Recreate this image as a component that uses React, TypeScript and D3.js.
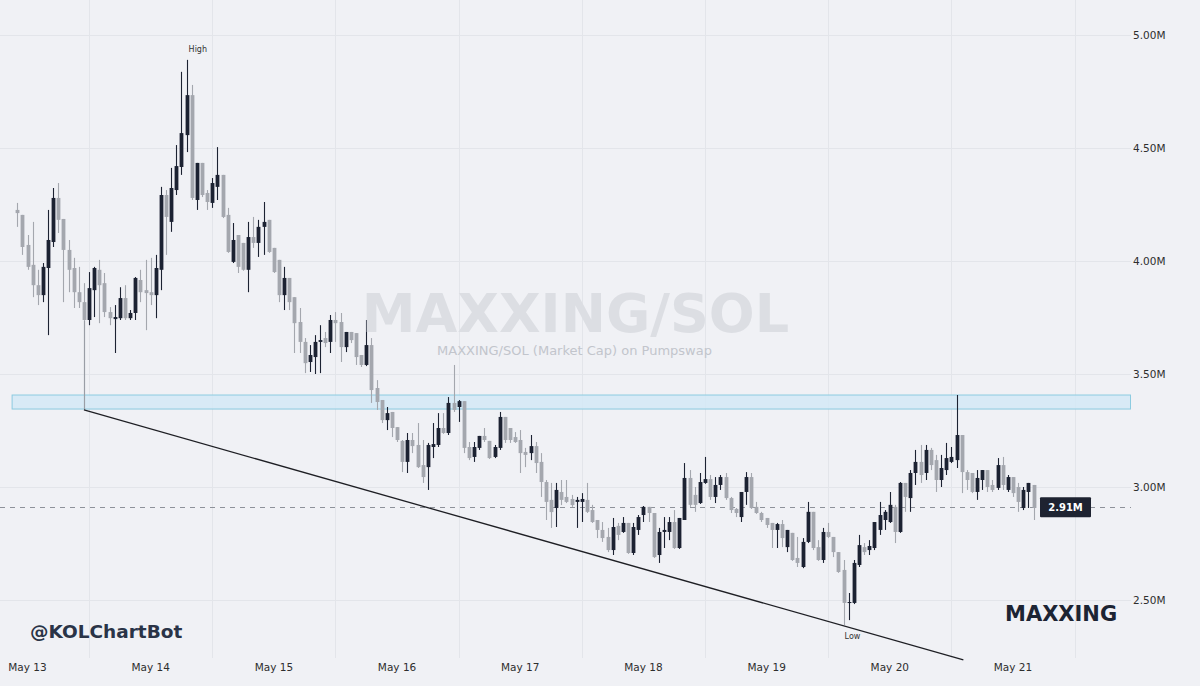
import React, { useEffect, useRef } from 'react';
import * as d3 from 'd3';

// hourly candles, first one opens May 12 22:00 (UTC), values in millions
const firstCandle = Date.UTC(2025, 4, 12, 22);

const ohlc: [number, number, number, number][] = [
  [4.226, 4.257, 4.151, 4.212], [4.204, 4.204, 4.027, 4.062], [4.071, 4.115, 3.961, 3.974], [3.983, 4.173, 3.840, 3.893],
  [3.893, 3.961, 3.805, 3.849], [3.849, 3.991, 3.818, 3.974], [3.969, 4.226, 3.672, 4.093], [4.084, 4.323, 4.062, 4.279],
  [4.279, 4.345, 4.124, 4.182], [4.186, 4.186, 3.818, 4.049], [4.049, 4.093, 3.862, 3.961], [3.969, 4.014, 3.792, 3.862],
  [3.862, 3.974, 3.792, 3.818], [3.818, 3.902, 3.735, 3.739], [3.739, 3.951, 3.716, 3.880], [3.871, 3.974, 3.752, 3.969],
  [3.961, 4.005, 3.725, 3.893], [3.902, 3.947, 3.752, 3.774], [3.774, 3.796, 3.716, 3.747], [3.743, 3.805, 3.593, 3.752],
  [3.747, 3.884, 3.739, 3.836], [3.836, 3.893, 3.739, 3.747], [3.747, 3.783, 3.739, 3.770], [3.770, 3.929, 3.739, 3.925],
  [3.916, 3.961, 3.818, 3.862], [3.871, 4.005, 3.694, 3.858], [3.862, 4.014, 3.805, 3.849], [3.849, 4.027, 3.747, 3.969],
  [3.961, 4.328, 3.871, 4.292], [4.292, 4.314, 4.027, 4.195], [4.173, 4.412, 4.129, 4.323], [4.314, 4.513, 4.292, 4.420],
  [4.416, 4.837, 4.381, 4.566], [4.557, 4.890, 4.482, 4.734], [4.734, 4.779, 4.270, 4.279], [4.270, 4.434, 4.226, 4.434],
  [4.434, 4.434, 4.283, 4.292], [4.301, 4.314, 4.226, 4.261], [4.257, 4.367, 4.235, 4.345], [4.328, 4.504, 4.270, 4.381],
  [4.381, 4.381, 4.190, 4.195], [4.204, 4.235, 4.036, 4.040], [3.996, 4.168, 3.991, 4.093], [4.115, 4.115, 3.947, 3.974],
  [4.080, 4.080, 3.957, 3.961], [3.961, 4.173, 3.862, 4.106], [4.106, 4.195, 4.058, 4.080], [4.080, 4.182, 4.018, 4.151],
  [4.151, 4.261, 4.027, 4.173], [4.182, 4.182, 4.036, 4.040], [4.058, 4.058, 3.947, 3.951], [4.005, 4.005, 3.818, 3.849],
  [3.849, 3.974, 3.783, 3.925], [3.925, 3.925, 3.783, 3.818], [3.840, 3.840, 3.593, 3.725], [3.730, 3.792, 3.593, 3.642],
  [3.642, 3.659, 3.504, 3.548], [3.553, 3.628, 3.509, 3.584], [3.575, 3.672, 3.500, 3.642], [3.642, 3.716, 3.504, 3.650],
  [3.659, 3.686, 3.619, 3.637], [3.642, 3.761, 3.593, 3.739], [3.739, 3.774, 3.642, 3.725], [3.730, 3.770, 3.553, 3.619],
  [3.619, 3.686, 3.597, 3.686], [3.686, 3.686, 3.637, 3.650], [3.681, 3.681, 3.540, 3.575], [3.584, 3.584, 3.531, 3.540],
  [3.540, 3.739, 3.535, 3.628], [3.628, 3.659, 3.372, 3.429], [3.438, 3.473, 3.341, 3.376], [3.385, 3.385, 3.283, 3.296],
  [3.296, 3.354, 3.252, 3.327], [3.332, 3.332, 3.221, 3.261], [3.265, 3.265, 3.199, 3.208], [3.204, 3.208, 3.066, 3.111],
  [3.111, 3.239, 3.062, 3.208], [3.208, 3.239, 3.150, 3.181], [3.186, 3.283, 3.084, 3.088], [3.097, 3.208, 3.018, 3.044],
  [3.088, 3.195, 2.987, 3.186], [3.177, 3.283, 3.128, 3.190], [3.186, 3.327, 3.177, 3.261], [3.261, 3.327, 3.235, 3.239],
  [3.239, 3.398, 3.230, 3.372], [3.372, 3.540, 3.332, 3.341], [3.354, 3.385, 3.288, 3.380], [3.380, 3.380, 3.150, 3.173],
  [3.177, 3.199, 3.119, 3.128], [3.133, 3.199, 3.111, 3.177], [3.173, 3.226, 3.164, 3.226], [3.226, 3.261, 3.199, 3.208],
  [3.204, 3.204, 3.124, 3.128], [3.133, 3.186, 3.128, 3.177], [3.173, 3.332, 3.164, 3.310], [3.310, 3.310, 3.195, 3.208],
  [3.261, 3.261, 3.195, 3.208], [3.221, 3.243, 3.195, 3.199], [3.208, 3.252, 3.062, 3.150], [3.155, 3.173, 3.088, 3.142],
  [3.150, 3.230, 3.119, 3.181], [3.181, 3.199, 3.062, 3.106], [3.111, 3.150, 2.956, 3.022], [3.022, 3.031, 2.854, 2.934],
  [2.943, 3.018, 2.819, 2.889], [2.907, 3.018, 2.823, 2.987], [2.978, 3.031, 2.920, 2.943], [2.956, 3.031, 2.929, 2.934],
  [2.947, 2.965, 2.912, 2.920], [2.934, 2.956, 2.819, 2.943], [2.934, 2.973, 2.845, 2.947], [2.943, 3.018, 2.885, 2.890],
  [2.898, 2.921, 2.841, 2.845], [2.854, 2.854, 2.774, 2.810], [2.810, 2.845, 2.757, 2.774], [2.779, 2.819, 2.712, 2.721],
  [2.721, 2.863, 2.699, 2.823], [2.828, 2.841, 2.765, 2.788], [2.801, 2.867, 2.797, 2.841], [2.841, 2.841, 2.704, 2.708],
  [2.708, 2.841, 2.699, 2.823], [2.810, 2.876, 2.788, 2.867], [2.876, 2.916, 2.845, 2.912], [2.912, 2.912, 2.845, 2.885],
  [2.885, 2.885, 2.686, 2.690], [2.699, 2.819, 2.664, 2.801], [2.801, 2.867, 2.730, 2.810], [2.801, 2.867, 2.765, 2.845],
  [2.845, 2.898, 2.726, 2.730], [2.730, 2.863, 2.726, 2.863], [2.854, 3.106, 2.854, 3.040], [3.040, 3.075, 2.912, 2.921],
  [2.965, 3.000, 2.890, 2.921], [2.929, 3.062, 2.925, 3.022], [3.018, 3.133, 3.014, 3.035], [3.035, 3.053, 2.943, 2.956],
  [2.956, 3.044, 2.929, 3.009], [3.009, 3.053, 2.987, 3.044], [3.044, 3.062, 2.943, 2.951], [2.951, 2.956, 2.885, 2.898],
  [2.903, 2.907, 2.867, 2.885], [2.867, 2.978, 2.845, 2.978], [2.978, 3.066, 2.921, 3.044], [3.044, 3.062, 2.903, 2.907],
  [2.912, 2.934, 2.881, 2.885], [2.885, 2.890, 2.845, 2.854], [2.863, 2.863, 2.819, 2.832], [2.841, 2.841, 2.730, 2.810],
  [2.810, 2.841, 2.730, 2.836], [2.836, 2.854, 2.734, 2.774], [2.734, 2.810, 2.712, 2.810], [2.797, 2.797, 2.673, 2.677],
  [2.686, 2.779, 2.646, 2.664], [2.646, 2.774, 2.641, 2.757], [2.757, 2.934, 2.752, 2.890], [2.890, 2.890, 2.721, 2.730],
  [2.734, 2.765, 2.673, 2.677], [2.677, 2.819, 2.664, 2.801], [2.801, 2.841, 2.774, 2.779], [2.779, 2.779, 2.690, 2.712],
  [2.712, 2.712, 2.620, 2.624], [2.633, 2.677, 2.389, 2.487], [2.487, 2.531, 2.411, 2.491], [2.487, 2.677, 2.482, 2.664],
  [2.655, 2.788, 2.646, 2.743], [2.734, 2.752, 2.699, 2.712], [2.721, 2.765, 2.699, 2.739], [2.730, 2.845, 2.721, 2.845],
  [2.810, 2.934, 2.788, 2.876], [2.854, 2.898, 2.810, 2.890], [2.845, 2.978, 2.841, 2.921], [2.912, 2.921, 2.752, 2.801],
  [2.801, 3.022, 2.797, 3.018], [3.018, 3.018, 2.890, 2.956], [2.951, 3.075, 2.890, 3.062], [3.062, 3.164, 3.009, 3.111],
  [3.111, 3.186, 3.018, 3.053], [3.062, 3.186, 3.031, 3.164], [3.164, 3.173, 3.075, 3.097], [3.119, 3.142, 2.978, 3.031],
  [3.031, 3.142, 3.000, 3.084], [3.075, 3.195, 3.053, 3.128], [3.111, 3.177, 3.106, 3.133], [3.119, 3.407, 3.084, 3.230],
  [3.230, 3.230, 2.973, 3.066], [3.066, 3.075, 2.987, 3.031], [3.062, 3.062, 2.973, 2.978], [2.978, 3.075, 2.943, 3.040],
  [3.031, 3.075, 2.987, 3.075], [3.075, 3.075, 2.978, 3.000], [3.009, 3.031, 2.978, 2.987], [2.996, 3.128, 2.987, 3.097],
  [3.097, 3.133, 2.987, 3.009], [2.987, 3.053, 2.978, 3.044], [3.044, 3.044, 2.956, 2.973], [3.000, 3.018, 2.890, 2.934],
  [2.907, 3.000, 2.898, 2.987], [2.978, 3.018, 2.907, 3.018], [3.009, 3.009, 2.854, 2.907],
];

const yTicks = [2.5, 3.0, 3.5, 4.0, 4.5, 5.0];
const dayTicks = ['2025-05-13', '2025-05-14', '2025-05-15', '2025-05-16', '2025-05-17', '2025-05-18', '2025-05-19', '2025-05-20', '2025-05-21'];
const zoneRange = [3.345, 3.407];
const zoneStart = Date.UTC(2025, 4, 12, 21);
// trend line drawn from the May 13 11:00 candle down to May 20
const trendPoints: [number, number][] = [
  [Date.UTC(2025, 4, 13, 11), 3.341],
  [Date.UTC(2025, 4, 20, 14, 20), 2.235],
];
const lastPrice = 2.91;

const FONT = '"DejaVu Sans", Verdana, sans-serif';

const CandleChart: React.FC = () => {
  const svgRef = useRef<SVGSVGElement | null>(null);

  useEffect(() => {
    const width = 1200;
    const height = 686;
    const plotRight = 1131;
    const plotBottom = 658;

    const svg = d3.select(svgRef.current)
      .attr('width', width)
      .attr('height', height)
      .style('font-family', FONT);
    svg.selectAll('*').remove();

    const x = d3.scaleUtc()
      .domain([new Date(Date.UTC(2025, 4, 13)), new Date(Date.UTC(2025, 4, 21))])
      .range([27.5, 1013]);

    const y = d3.scaleLinear()
      .domain([2.5, 5.0])
      .range([600, 35]);

    const hour = 3600 * 1000;
    const candles = ohlc.map((d, i) => ({
      t: new Date(firstCandle + i * hour),
      o: d[0], h: d[1], l: d[2], c: d[3],
    }));

    svg.append('rect')
      .attr('width', width)
      .attr('height', height)
      .attr('fill', '#f0f1f5');

    svg.append('clipPath')
      .attr('id', 'plot-clip')
      .append('rect')
      .attr('x', 0)
      .attr('y', 0)
      .attr('width', plotRight)
      .attr('height', plotBottom);

    const plot = svg.append('g').attr('clip-path', 'url(#plot-clip)');

    // grid
    plot.selectAll('.h-grid')
      .data(yTicks)
      .enter()
      .append('line')
      .attr('x1', 0)
      .attr('x2', plotRight)
      .attr('y1', d => Math.round(y(d)) + 0.5)
      .attr('y2', d => Math.round(y(d)) + 0.5)
      .attr('stroke', '#e3e5ea');

    const days = dayTicks.map(d => new Date(d + 'T00:00:00Z'));
    plot.selectAll('.v-grid')
      .data(days)
      .enter()
      .append('line')
      .attr('x1', d => Math.round(x(d3.utcHour.offset(d, 12))) + 0.5)
      .attr('x2', d => Math.round(x(d3.utcHour.offset(d, 12))) + 0.5)
      .attr('y1', 0)
      .attr('y2', plotBottom)
      .attr('stroke', '#e3e5ea');

    // watermark
    svg.append('text')
      .attr('x', 575.5)
      .attr('y', 332)
      .attr('text-anchor', 'middle')
      .attr('font-size', 54)
      .attr('font-weight', 'bold')
      .attr('fill', '#dcdee3')
      .text('MAXXING/SOL');

    svg.append('text')
      .attr('x', 574.5)
      .attr('y', 355)
      .attr('text-anchor', 'middle')
      .attr('font-size', 13)
      .attr('fill', '#c2c5cc')
      .text('MAXXING/SOL (Market Cap) on Pumpswap');

    // resistance zone
    plot.append('rect')
      .attr('x', x(new Date(zoneStart)))
      .attr('y', y(zoneRange[1]))
      .attr('width', plotRight - 0.5 - x(new Date(zoneStart)))
      .attr('height', y(zoneRange[0]) - y(zoneRange[1]))
      .attr('fill', '#d3e9f6')
      .attr('fill-opacity', 0.85)
      .attr('stroke', '#8ccbe0')
      .attr('stroke-width', 1);

    // last price line
    plot.append('line')
      .attr('x1', 0)
      .attr('x2', plotRight)
      .attr('y1', Math.round(y(lastPrice)) + 0.5)
      .attr('y2', Math.round(y(lastPrice)) + 0.5)
      .attr('stroke', '#8e929a')
      .attr('stroke-dasharray', '5,5');

    // connector from the anchor candle low down to the trend line start
    const anchor = candles.find(d => +d.t === +trendPoints[0][0])!;
    plot.append('line')
      .attr('x1', Math.round(x(anchor.t)) + 0.5)
      .attr('x2', Math.round(x(anchor.t)) + 0.5)
      .attr('y1', y(anchor.l))
      .attr('y2', y(trendPoints[0][1]))
      .attr('stroke', '#9a9ea6')
      .attr('stroke-width', 1.2);

    svg.append('line')
      .attr('x1', x(new Date(trendPoints[0][0])))
      .attr('y1', y(trendPoints[0][1]))
      .attr('x2', x(new Date(trendPoints[1][0])))
      .attr('y2', y(trendPoints[1][1]))
      .attr('stroke', '#1e1f24')
      .attr('stroke-width', 1.3);

    // candles
    const upColor = '#1c2232';
    const downColor = '#a4a7ae';
    const bodyW = 3.8;

    const g = plot.selectAll('.candle')
      .data(candles)
      .enter()
      .append('g')
      .attr('class', 'candle');

    g.append('line')
      .attr('x1', d => Math.round(x(d.t)) + 0.5)
      .attr('x2', d => Math.round(x(d.t)) + 0.5)
      .attr('y1', d => y(d.h))
      .attr('y2', d => y(d.l))
      .attr('stroke', d => d.c >= d.o ? upColor : downColor)
      .attr('stroke-width', 1.1);

    g.append('rect')
      .attr('x', d => Math.round(x(d.t)) + 0.5 - bodyW / 2)
      .attr('y', d => y(Math.max(d.o, d.c)))
      .attr('width', bodyW)
      .attr('height', d => Math.max(1, Math.abs(y(d.o) - y(d.c))))
      .attr('fill', d => d.c >= d.o ? upColor : downColor);

    // high / low marks
    const hi = candles.reduce((a, b) => (b.h > a.h ? b : a));
    const lo = candles.reduce((a, b) => (b.l < a.l ? b : a));
    svg.append('text')
      .attr('x', x(hi.t) + 2)
      .attr('y', y(hi.h) - 8)
      .attr('font-size', 8)
      .attr('fill', '#333')
      .text('High');
    svg.append('text')
      .attr('x', x(lo.t) + 1)
      .attr('y', y(lo.l) + 14)
      .attr('font-size', 8)
      .attr('fill', '#333')
      .text('Low');

    // price tag
    const tagY = y(lastPrice);
    svg.append('rect')
      .attr('x', 1040)
      .attr('y', tagY - 10)
      .attr('width', 51)
      .attr('height', 20)
      .attr('rx', 1)
      .attr('fill', '#1e2331');
    svg.append('text')
      .attr('x', 1065.5)
      .attr('y', tagY)
      .attr('dy', '0.36em')
      .attr('text-anchor', 'middle')
      .attr('font-size', 10)
      .attr('font-weight', 'bold')
      .attr('fill', '#ffffff')
      .text(`${lastPrice.toFixed(2)}M`);

    // axes labels
    svg.selectAll('.y-label')
      .data(yTicks)
      .enter()
      .append('text')
      .attr('x', 1133)
      .attr('y', d => y(d))
      .attr('dy', '0.35em')
      .attr('font-size', 10.5)
      .attr('fill', '#2e2e2e')
      .text(d => `${d.toFixed(2)}M`);

    svg.selectAll('.x-label')
      .data(days)
      .enter()
      .append('text')
      .attr('x', d => x(d))
      .attr('y', 671)
      .attr('text-anchor', 'middle')
      .attr('font-size', 10.5)
      .attr('fill', '#2e2e2e')
      .text(d => d3.utcFormat('%b %-d')(d));

    svg.append('text')
      .attr('x', 30)
      .attr('y', 638)
      .attr('font-size', 18.5)
      .attr('font-weight', 'bold')
      .attr('fill', '#2a3447')
      .text('@KOLChartBot');

    svg.append('text')
      .attr('x', 1005)
      .attr('y', 621)
      .attr('font-size', 21)
      .attr('font-weight', 'bold')
      .attr('fill', '#1c2433')
      .text('MAXXING');
  }, []);

  return <svg ref={svgRef} style={{ display: 'block' }}></svg>;
};

export default function App() {
  return (
    <div style={{ position: 'absolute', left: 0, top: 0 }}>
      <CandleChart />
    </div>
  );
}
